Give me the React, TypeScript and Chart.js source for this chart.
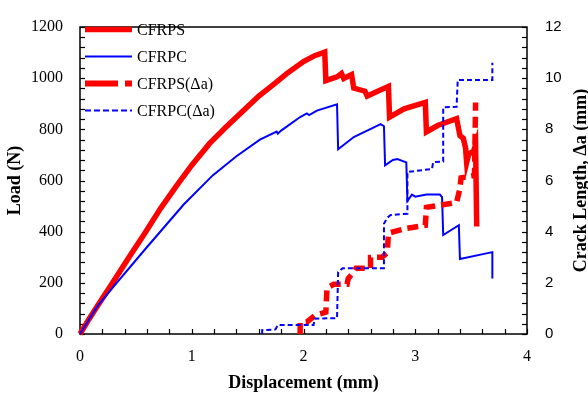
import React, { useEffect, useRef } from 'react';
import { Chart, registerables } from 'chart.js';

Chart.register(...registerables);

// ---- data ----
const cfrpsX = [0, 0.08, 0.16, 0.28, 0.45, 0.58, 0.72, 0.86, 1.0, 1.16, 1.3, 1.43, 1.6, 1.73, 1.85, 2.0, 2.1, 2.19, 2.2, 2.3, 2.34, 2.36, 2.43, 2.45, 2.55, 2.57, 2.76, 2.77, 2.9, 3.09, 3.1, 3.2, 3.37, 3.4, 3.43, 3.45, 3.46, 3.48, 3.52, 3.54, 3.55];
const cfrpsLoad = [0, 58, 112, 192, 308, 394, 490, 577, 660, 745, 806, 860, 930, 975, 1018, 1065, 1088, 1102, 990, 1005, 1018, 999, 1014, 961, 949, 930, 968, 848, 880, 905, 790, 815, 842, 775, 765, 728, 670, 705, 712, 740, 420];

const cfrpcX = [0, 0.15, 0.3, 0.6, 0.93, 1.19, 1.4, 1.61, 1.76, 1.77, 1.8, 1.97, 2.03, 2.05, 2.12, 2.3, 2.31, 2.45, 2.69, 2.72, 2.73, 2.8, 2.84, 2.92, 2.93, 2.97, 3.0, 3.1, 3.22, 3.24, 3.25, 3.39, 3.4, 3.69, 3.69];
const cfrpcLoad = [0, 105, 185, 340, 507, 621, 695, 760, 791, 783, 795, 848, 862, 856, 873, 898, 722, 770, 820, 812, 659, 680, 684, 671, 520, 545, 537, 545, 545, 535, 387, 425, 293, 320, 217];

const cfrpsDaX = [1.97, 1.97, 2.03, 2.1, 2.2, 2.21, 2.27, 2.39, 2.4, 2.45, 2.47, 2.6, 2.6, 2.7, 2.75, 2.76, 2.92, 3.09, 3.1, 3.37, 3.4, 3.41, 3.53, 3.54];
const cfrpsDa = [0, 0.45, 0.47, 0.72, 0.85, 1.8, 1.94, 1.94, 2.17, 2.42, 2.57, 2.57, 2.99, 3.0, 3.18, 3.94, 4.13, 4.25, 4.95, 5.14, 5.7, 6.1, 6.2, 9.05];

const cfrpcDaX = [1.63, 1.63, 1.75, 1.77, 2.09, 2.1, 2.3, 2.31, 2.35, 2.72, 2.72, 2.75, 2.78, 2.93, 2.93, 3.15, 3.16, 3.25, 3.25, 3.37, 3.38, 3.69, 3.69];
const cfrpcDa = [0, 0.15, 0.18, 0.35, 0.35, 0.6, 0.62, 2.42, 2.57, 2.57, 4.31, 4.55, 4.65, 4.7, 6.33, 6.45, 6.72, 6.74, 8.86, 8.88, 9.93, 9.93, 10.6];

const xTicks = [0, 1, 2, 3, 4];
const loadTicks = [0, 200, 400, 600, 800, 1000, 1200];
const crackTicks = [0, 2, 4, 6, 8, 10, 12];

const seriesNames = ['CFRPS', 'CFRPC', 'CFRPS(Δa)', 'CFRPC(Δa)'];

const RED = '#ff0000';
const BLUE = '#0000ff';
const SERIF = "'Liberation Serif', 'Times New Roman', serif";
const SANS = "'Liberation Sans', Arial, sans-serif";

const pts = (xs: number[], ys: number[]) => xs.map((x, i) => ({ x, y: ys[i] }));
const plain = (v: any) => String(v);

const decorPlugin = {
  id: 'decor',
  beforeDatasetsDraw(chart: any) {
    const { ctx, chartArea: a, scales } = chart;
    ctx.save();
    ctx.strokeStyle = '#000';
    ctx.lineWidth = 1.2;
    const L = 5;
    const line = (x1: number, y1: number, x2: number, y2: number) => {
      ctx.beginPath();
      ctx.moveTo(x1, y1);
      ctx.lineTo(x2, y2);
      ctx.stroke();
    };
    // x minor ticks every 0.2
    for (let i = 0; i <= 20; i++) {
      const px = Math.round(scales.x.getPixelForValue(i * 0.2)) + 0.5;
      line(px, a.bottom, px, a.bottom - L);
    }
    // left ticks every 40
    for (let i = 0; i <= 30; i++) {
      const py = Math.round(scales.y.getPixelForValue(i * 40)) + 0.5;
      line(a.left, py, a.left + L, py);
    }
    // right ticks every 0.4
    for (let i = 0; i <= 30; i++) {
      const py = Math.round(scales.y2.getPixelForValue(i * 0.4)) + 0.5;
      line(a.right, py, a.right - L, py);
    }
    ctx.lineWidth = 1.5;
    ctx.strokeRect(a.left, a.top, a.right - a.left, a.bottom - a.top);
    ctx.restore();
  },
  afterDraw(chart: any) {
    const { ctx, chartArea: a } = chart;
    ctx.save();
    // legend
    const styles = [
      { color: RED, width: 5.5, dash: [] as number[] },
      { color: BLUE, width: 2, dash: [] as number[] },
      { color: RED, width: 6, dash: [33, 7] },
      { color: BLUE, width: 2.2, dash: [6, 3] },
    ];
    const rowY = [29.5, 56.5, 83.5, 110.5];
    ctx.font = `16px ${SERIF}`;
    ctx.textBaseline = 'middle';
    ctx.textAlign = 'left';
    seriesNames.forEach((name, i) => {
      const s = styles[i];
      ctx.strokeStyle = s.color;
      ctx.lineWidth = s.width;
      ctx.setLineDash(s.dash);
      ctx.lineCap = 'butt';
      ctx.beginPath();
      ctx.moveTo(85, rowY[i]);
      ctx.lineTo(132, rowY[i]);
      ctx.stroke();
      ctx.setLineDash([]);
      ctx.fillStyle = '#000';
      ctx.fillText(name, 137, rowY[i] + 1);
    });
    // right axis title (reads bottom to top)
    ctx.translate(586, (a.top + a.bottom) / 2);
    ctx.rotate(-Math.PI / 2);
    ctx.font = `bold 18px ${SERIF}`;
    ctx.textAlign = 'center';
    ctx.textBaseline = 'alphabetic';
    ctx.fillStyle = '#000';
    ctx.fillText('Crack Length, Δa (mm)', 0, 0);
    ctx.restore();
  },
};

export default function App() {
  const ref = useRef<HTMLCanvasElement>(null);
  useEffect(() => {
    document.body.style.margin = '0';
    const canvas = ref.current;
    if (!canvas) return;
    const chart = new Chart(canvas, {
      type: 'line',
      data: {
        datasets: [
          {
            label: seriesNames[0],
            data: pts(cfrpsX, cfrpsLoad),
            yAxisID: 'y',
            borderColor: RED,
            borderWidth: 5.5,
            order: 4,
          },
          {
            label: seriesNames[1],
            data: pts(cfrpcX, cfrpcLoad),
            yAxisID: 'y',
            borderColor: BLUE,
            borderWidth: 2,
            order: 3,
          },
          {
            label: seriesNames[2],
            data: pts(cfrpsDaX, cfrpsDa),
            yAxisID: 'y2',
            borderColor: RED,
            borderWidth: 5.5,
            borderDash: [11, 6],
            order: 2,
          },
          {
            label: seriesNames[3],
            data: pts(cfrpcDaX, cfrpcDa),
            yAxisID: 'y2',
            borderColor: BLUE,
            borderWidth: 2,
            borderDash: [5, 3],
            order: 1,
          },
        ] as any,
      },
      options: {
        responsive: false,
        maintainAspectRatio: false,
        animation: false,
        layout: { padding: { top: 17, left: 0, right: 0, bottom: 0 } },
        elements: {
          point: { radius: 0, hoverRadius: 0 },
          line: { tension: 0, fill: false, borderJoinStyle: 'miter' as any },
        },
        datasets: { line: { clip: 6 as any } },
        plugins: { legend: { display: false }, tooltip: { enabled: false } },
        scales: {
          x: {
            type: 'linear',
            min: 0,
            max: 4,
            afterFit: (s: any) => { s.height = 61; },
            afterBuildTicks: (s: any) => { s.ticks = xTicks.map((v) => ({ value: v })); },
            ticks: { color: '#000', font: { family: SERIF, size: 16 }, padding: 13, callback: plain },
            grid: { display: false, drawTicks: false },
            border: { display: false },
            title: {
              display: true,
              text: 'Displacement (mm)',
              color: '#000',
              font: { family: SERIF, size: 18, weight: 'bold' },
              padding: { top: 0, bottom: 1 },
            },
          },
          y: {
            type: 'linear',
            position: 'left',
            min: 0,
            max: 1200,
            afterFit: (s: any) => { s.width = 80; },
            afterBuildTicks: (s: any) => { s.ticks = loadTicks.map((v) => ({ value: v })); },
            ticks: { color: '#000', font: { family: SERIF, size: 16 }, padding: 17, callback: plain },
            grid: { display: false, drawTicks: false },
            border: { display: false },
            title: {
              display: true,
              text: 'Load (N)',
              color: '#000',
              font: { family: SERIF, size: 18, weight: 'bold' },
              padding: { top: 5, bottom: 0 },
            },
          },
          y2: {
            type: 'linear',
            position: 'right',
            min: 0,
            max: 12,
            afterFit: (s: any) => { s.width = 61; },
            afterBuildTicks: (s: any) => { s.ticks = crackTicks.map((v) => ({ value: v })); },
            ticks: { color: '#000', font: { family: SANS, size: 15 }, padding: 18, callback: plain },
            grid: { display: false, drawTicks: false },
            border: { display: false },
            title: { display: false },
          },
        },
      } as any,
      plugins: [decorPlugin],
    });
    return () => chart.destroy();
  }, []);
  return (
    <div style={{ position: 'absolute', left: 0, top: 0, width: 588, height: 395 }}>
      <canvas ref={ref} width={588} height={395} style={{ display: 'block' }} />
    </div>
  );
}
